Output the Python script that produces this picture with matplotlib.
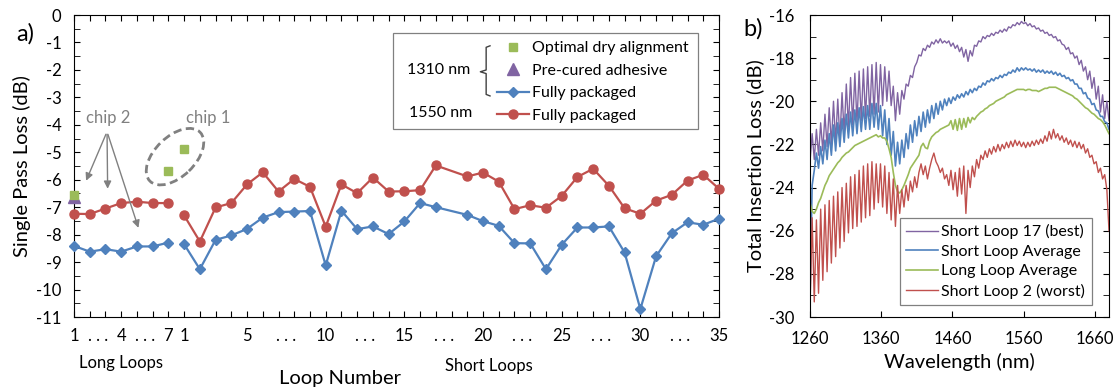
import numpy as np
import matplotlib
matplotlib.use('Agg')
import matplotlib.pyplot as plt
from matplotlib.lines import Line2D
from matplotlib.patches import Rectangle, Ellipse
import matplotlib.transforms as mtransforms

plt.rcParams['font.family'] = ['Lato', 'DejaVu Sans']
plt.rcParams['axes.unicode_minus'] = False

BLUE = '#4F81BD'
RED = '#C0504D'
GREEN = '#9BBB59'
PURPLE = '#8064A2'
GREY = '#808080'

# ---------------- a) single pass loss per loop ----------------
long_loops = [1, 2, 3, 4, 5, 6, 7]
long_1310 = [-8.41, -8.62, -8.53, -8.62, -8.43, -8.43, -8.29]
long_1550 = [-7.24, -7.25, -7.05, -6.85, -6.80, -6.85, -6.85]

# short loop 18 has no measurement
short_loops = [1, 2, 3, 4, 5, 6, 7, 8, 9, 10, 11, 12, 13, 14, 15, 16, 17,
               19, 20, 21, 22, 23, 24, 25, 26, 27, 28, 29, 30, 31, 32, 33, 34, 35]
short_1310 = [-8.35, -9.26, -8.19, -8.03, -7.79, -7.38, -7.18, -7.16, -7.14, -9.12,
              -7.13, -7.80, -7.70, -7.98, -7.52, -6.85, -7.00,
              -7.28, -7.51, -7.68, -8.31, -8.32, -9.26, -8.37, -7.74, -7.74,
              -7.70, -8.65, -10.71, -8.79, -7.95, -7.55, -7.64, -7.42]
short_1550 = [-7.30, -8.25, -7.01, -6.85, -6.17, -5.73, -6.43, -5.97, -6.26, -7.71,
              -6.17, -6.49, -5.92, -6.43, -6.42, -6.38, -5.48,
              -5.88, -5.74, -6.07, -7.07, -6.93, -7.02, -6.59, -5.90, -5.60,
              -6.22, -7.04, -7.24, -6.76, -6.55, -6.03, -5.82, -6.33]

# 1310 nm chip tests: (loop group, loop number)
dry_loops = [('long', 1), ('long', 7), ('short', 1)]
dry_loss = [-6.57, -5.70, -4.88]
precured_loops = [('long', 1)]
precured_loss = [-6.62]

# x axis labels (position index -> text) and the ". . ." fillers
tick_text = {0: '1', 3: '4', 6: '7', 7: '1', 11: '5', 16: '10', 21: '15',
             26: '20', 31: '25', 36: '30', 41: '35'}
dots_at = [1.5, 4.5, 9, 13.5, 18.5, 23.5, 28.5, 33.5, 38.5]

# ---------------- b) insertion loss spectra ----------------
wavelength = np.arange(1260, 1681, 3)
best_17 = [-22.8, -21.5, -22.7, -21.3, -22.5, -21.0, -22.3, -20.6, -22.1, -20.3,
           -22.0, -20.0, -21.9, -19.9, -21.8, -19.6, -21.5, -19.2, -21.2, -18.9,
           -21.1, -18.7, -21.0, -18.6, -20.9, -18.5, -20.8, -18.4, -20.7, -18.3,
           -20.6, -18.2, -20.5, -18.3, -20.2, -18.4, -20.0, -18.6, -20.2, -19.3,
           -20.9, -19.6, -20.6, -19.5, -19.9, -19.2, -19.3, -18.8, -18.9, -18.4,
           -18.2, -17.85, -17.9, -17.55, -17.65, -17.4, -17.5, -17.25, -17.35, -17.15,
           -17.3, -17.1, -17.3, -17.2, -17.3, -17.2, -17.45, -17.3, -17.55, -17.4,
           -17.7, -17.5, -17.95, -17.6, -18.15, -17.65, -17.9, -17.4, -17.45, -17.2,
           -17.25, -17.0, -17.1, -16.95, -17.0, -16.85, -16.95, -16.8, -16.85, -16.7,
           -16.8, -16.65, -16.75, -16.55, -16.6, -16.45, -16.5, -16.35, -16.45, -16.3,
           -16.4, -16.35, -16.5, -16.4, -16.55, -16.5, -16.65, -16.6, -16.75, -16.7,
           -16.85, -16.8, -16.95, -16.9, -17.05, -17.0, -17.2, -17.15, -17.35, -17.4,
           -17.6, -17.5, -17.8, -17.75, -18.0, -17.9, -18.3, -18.1, -18.6, -18.4,
           -19.0, -18.6, -19.4, -18.9, -19.9, -19.3, -20.5, -19.7, -20.8, -20.0,
           -20.9]
short_avg = [-29.2, -23.9, -23.2, -22.4, -23.1, -22.1, -22.9, -21.8, -22.7, -21.5,
             -22.5, -21.1, -22.3, -21.0, -22.1, -20.8, -21.9, -20.6, -21.7, -20.5,
             -21.6, -20.4, -21.5, -20.3, -21.4, -20.25, -21.3, -20.2, -21.3, -20.1,
             -21.2, -20.1, -21.3, -20.2, -21.6, -20.4, -22.0, -20.8, -22.5, -21.4,
             -23.0, -21.9, -22.9, -21.8, -22.6, -21.5, -22.2, -21.1, -21.9, -20.9,
             -21.6, -20.7, -21.4, -20.5, -21.2, -20.4, -21.0, -20.2, -20.8, -20.1,
             -20.6, -20.0, -20.4, -19.9, -20.2, -19.85, -20.1, -19.8, -19.95, -19.7,
             -19.85, -19.65, -19.8, -19.55, -19.7, -19.45, -19.6, -19.4, -19.5, -19.3,
             -19.35, -19.15, -19.25, -19.05, -19.1, -18.95, -19.05, -18.9, -18.95, -18.8,
             -18.9, -18.75, -18.8, -18.65, -18.7, -18.55, -18.65, -18.45, -18.6, -18.45,
             -18.55, -18.45, -18.55, -18.5, -18.6, -18.5, -18.65, -18.55, -18.65, -18.55,
             -18.7, -18.6, -18.7, -18.6, -18.75, -18.65, -18.8, -18.7, -18.85, -18.8,
             -18.95, -18.9, -19.05, -19.0, -19.2, -19.2, -19.4, -19.4, -19.65, -19.6,
             -19.85, -19.9, -20.15, -20.1, -20.4, -20.45, -20.7, -20.7, -20.95, -21.0,
             -21.3]
long_avg = [-24.7, -25.1, -25.2, -25.0, -24.7, -24.5, -24.2, -23.9, -23.7, -23.45,
            -23.3, -23.15, -23.0, -22.85, -22.75, -22.6, -22.5, -22.4, -22.35, -22.25,
            -22.15, -22.05, -22.0, -21.95, -21.9, -21.85, -21.8, -21.75, -21.7, -21.65,
            -21.6, -21.55, -21.65, -21.6, -21.7, -21.7, -21.85, -22.2, -22.6, -23.3,
            -23.9, -24.2, -24.25, -24.1, -23.9, -23.65, -23.4, -23.1, -22.95, -22.8,
            -22.65, -22.5, -22.1, -21.95, -22.15, -22.2, -21.85, -21.65, -21.55, -21.45,
            -21.4, -21.3, -21.25, -21.2, -21.15, -21.1, -20.9, -21.3, -20.85, -21.35,
            -20.8, -21.3, -20.8, -21.2, -20.75, -21.0, -20.75, -20.85, -20.7, -20.6,
            -20.5, -20.45, -20.35, -20.3, -20.2, -20.15, -20.1, -20.0, -19.95, -19.9,
            -19.85, -19.8, -19.7, -19.65, -19.6, -19.55, -19.5, -19.45, -19.45, -19.45,
            -19.45, -19.5, -19.45, -19.45, -19.5, -19.5, -19.5, -19.55, -19.5, -19.45,
            -19.4, -19.4, -19.35, -19.35, -19.35, -19.35, -19.4, -19.45, -19.5, -19.55,
            -19.6, -19.65, -19.7, -19.75, -19.85, -19.9, -20.0, -20.1, -20.2, -20.3,
            -20.35, -20.45, -20.55, -20.6, -20.7, -20.8, -20.85, -20.95, -21.1, -21.3,
            -21.5]
worst_2 = [-29.6, -25.4, -29.3, -25.5, -28.9, -25.0, -28.3, -24.8, -27.9, -24.6,
           -27.5, -24.4, -27.2, -24.2, -26.8, -24.0, -26.5, -23.8, -26.1, -23.5,
           -25.9, -23.4, -25.8, -23.2, -25.6, -23.0, -25.4, -22.9, -25.3, -22.8,
           -25.0, -22.9, -24.7, -22.9, -24.9, -23.0, -25.2, -23.3, -25.5, -23.6,
           -25.8, -23.9, -25.2, -24.1, -24.9, -23.9, -24.6, -23.7, -24.2, -23.5,
           -24.0, -23.3, -22.9, -23.4, -23.0, -23.6, -23.1, -22.7, -22.4, -22.8,
           -23.0, -23.3, -23.1, -23.6, -23.4, -23.9, -23.2, -24.1, -23.3, -24.4,
           -23.1, -24.3, -23.0, -25.2, -23.2, -24.0, -23.0, -23.5, -22.7, -23.1,
           -22.5, -22.7, -22.3, -22.6, -22.2, -22.45, -22.1, -22.35, -22.0, -22.3,
           -22.0, -22.2, -21.9, -22.15, -21.85, -22.1, -21.8, -22.05, -21.85, -22.1,
           -21.9, -22.15, -21.9, -22.1, -21.85, -22.05, -21.8, -22.0, -21.75, -21.95,
           -21.6, -21.85, -21.4, -21.75, -21.3, -21.7, -21.5, -21.8, -21.6, -21.9,
           -21.7, -22.0, -21.8, -22.1, -21.85, -22.15, -21.9, -22.2, -22.0, -22.4,
           -22.2, -22.6, -22.5, -22.9, -22.8, -23.3, -23.1, -23.6, -23.4, -24.1,
           -26.0]


def xpos(group, n):
    # long loops sit on positions 0..6, short loops continue after them
    return n - 1 if group == 'long' else len(long_loops) + n - 1


fig = plt.figure(figsize=(11.18, 3.9), dpi=100)
ax1 = fig.add_axes([74 / 1118, 73 / 390, 645 / 1118, 302 / 390])
ax2 = fig.add_axes([810 / 1118, 73 / 390, 299 / 1118, 302 / 390])

# ---- panel a ----
xl = [xpos('long', n) for n in long_loops]
xs = [xpos('short', n) for n in short_loops]
for xx, yy in [(xl, long_1310), (xs, short_1310)]:
    ax1.plot(xx, yy, color=BLUE, marker='D', ms=5, lw=1.6, clip_on=False, zorder=3)
for xx, yy in [(xl, long_1550), (xs, short_1550)]:
    ax1.plot(xx, yy, color=RED, marker='o', ms=6.5, lw=1.6, clip_on=False, zorder=3)
ax1.plot([xpos(g, n) for g, n in precured_loops], precured_loss, ls='none',
         marker='^', ms=8.5, color=PURPLE, clip_on=False, zorder=4)
ax1.plot([xpos(g, n) for g, n in dry_loops], dry_loss, ls='none',
         marker='s', ms=6, color=GREEN, clip_on=False, zorder=5)

ax1.set_xlim(0, 41)
ax1.set_ylim(-11, 0)
ax1.set_yticks(np.arange(-11, 1, 1))
ax1.set_yticks(np.arange(-11, 0.01, 0.5), minor=True)
ax1.set_xticks(range(42))
ax1.set_xticklabels([tick_text.get(i, '') for i in range(42)])
ax1.set_xticks(dots_at, minor=True)
ax1.set_xticklabels(['. . .'] * len(dots_at), minor=True)
ax1.tick_params(which='both', direction='in', top=True, right=True, length=4, labelsize=12)
ax1.tick_params(axis='x', which='minor', length=0)
ax1.tick_params(axis='x', which='both', pad=8)
ax1.tick_params(axis='y', which='both', pad=9)

ax1.set_ylabel('Single Pass Loss (dB)', fontsize=14.5)
ax1.set_xlabel('Loop Number', fontsize=14.5)
ax1.xaxis.set_label_coords(0.412, -0.203)
ax1.xaxis.label.set_va('center')
trans = mtransforms.blended_transform_factory(ax1.transData, ax1.transAxes)
ax1.text(3, -0.152, 'Long Loops', transform=trans, ha='center', va='center', fontsize=12)
ax1.text(26.4, -0.162, 'Short Loops', transform=trans, ha='center', va='center', fontsize=12)

# chip annotations
ax1.text(2.2, -3.75, 'chip 2', color=GREY, ha='center', va='center', fontsize=12)
for tx, ty in [(0.70, -6.13), (2.14, -6.43), (4.15, -7.85)]:
    ax1.annotate('', xy=(tx, ty), xytext=(2.1, -4.25),
                 arrowprops=dict(arrowstyle='-|>', color=GREY, lw=1, mutation_scale=11))
ax1.text(8.5, -3.74, 'chip 1', color=GREY, ha='center', va='center', fontsize=12)
ell_trans = fig.dpi_scale_trans + mtransforms.ScaledTranslation(6.42, -5.16, ax1.transData)
ax1.add_patch(Ellipse((0, 0), 0.70, 0.40, angle=44, transform=ell_trans, fill=False,
                      ec=GREY, lw=2, ls=(0, (3, 1.6))))

# legend of panel a with its box and wavelength bracket
handles = [Line2D([], [], ls='none', marker='s', ms=6, color=GREEN),
           Line2D([], [], ls='none', marker='^', ms=8.5, color=PURPLE),
           Line2D([], [], color=BLUE, marker='D', ms=5, lw=1.6),
           Line2D([], [], color=RED, marker='o', ms=6.5, lw=1.6)]
labels = ['Optimal dry alignment', 'Pre-cured adhesive', 'Fully packaged', 'Fully packaged']
ax1.legend(handles, labels, loc='upper left', bbox_to_anchor=(0.6558, 0.914), frameon=False,
           borderpad=0, borderaxespad=0, handlelength=2.0, handletextpad=0.2,
           labelspacing=0.52, fontsize=11.5, numpoints=1)
ax1.add_patch(Rectangle((0.4946, 0.6225), 0.4728, 0.3165, transform=ax1.transAxes,
                        fill=False, ec=GREY, lw=0.9))
ax1.text(0.566, 0.818, '1310 nm', transform=ax1.transAxes, ha='center', va='center', fontsize=11.5)
ax1.text(0.569, 0.675, '1550 nm', transform=ax1.transAxes, ha='center', va='center', fontsize=11.5)
ax1.add_line(Line2D([0.645, 0.639, 0.639, 0.630, 0.639, 0.639, 0.645],
                    [0.898, 0.893, 0.818, 0.812, 0.806, 0.737, 0.732],
                    transform=ax1.transAxes, color='#404040', lw=1))

# ---- panel b ----
ax2.plot(wavelength, best_17, color=PURPLE, lw=1.0, label='Short Loop 17 (best)')
ax2.plot(wavelength, short_avg, color=BLUE, lw=1.2, label='Short Loop Average')
ax2.plot(wavelength, long_avg, color=GREEN, lw=1.2, label='Long Loop Average')
ax2.plot(wavelength, worst_2, color=RED, lw=1.0, label='Short Loop 2 (worst)')
ax2.set_xlim(1260, 1680)
ax2.set_ylim(-30, -16)
ax2.set_xticks([1260, 1360, 1460, 1560, 1660])
ax2.set_yticks(np.arange(-30, -15, 2))
ax2.set_yticks(np.arange(-30, -15, 1), minor=True)
ax2.tick_params(which='both', direction='in', top=True, right=True, length=4, labelsize=12)
ax2.tick_params(axis='x', pad=10)
ax2.tick_params(axis='y', which='both', pad=11)
ax2.set_xlabel('Wavelength (nm)', fontsize=14.5)
ax2.set_ylabel('Total Insertion Loss (dB)', fontsize=14.5)
leg = ax2.legend(loc='lower right', bbox_to_anchor=(0.942, 0.04), borderaxespad=0,
                 fancybox=False, edgecolor=GREY, framealpha=1, fontsize=11.5,
                 handlelength=2.0, handletextpad=0.2, labelspacing=0.33, borderpad=0.4)
leg.get_frame().set_linewidth(0.9)

fig.text(25 / 1118, 1 - 34 / 390, 'a)', ha='center', va='center', fontsize=17)
fig.text(753 / 1118, 1 - 29 / 390, 'b)', ha='center', va='center', fontsize=17)

fig.savefig('out.png', dpi=100)
